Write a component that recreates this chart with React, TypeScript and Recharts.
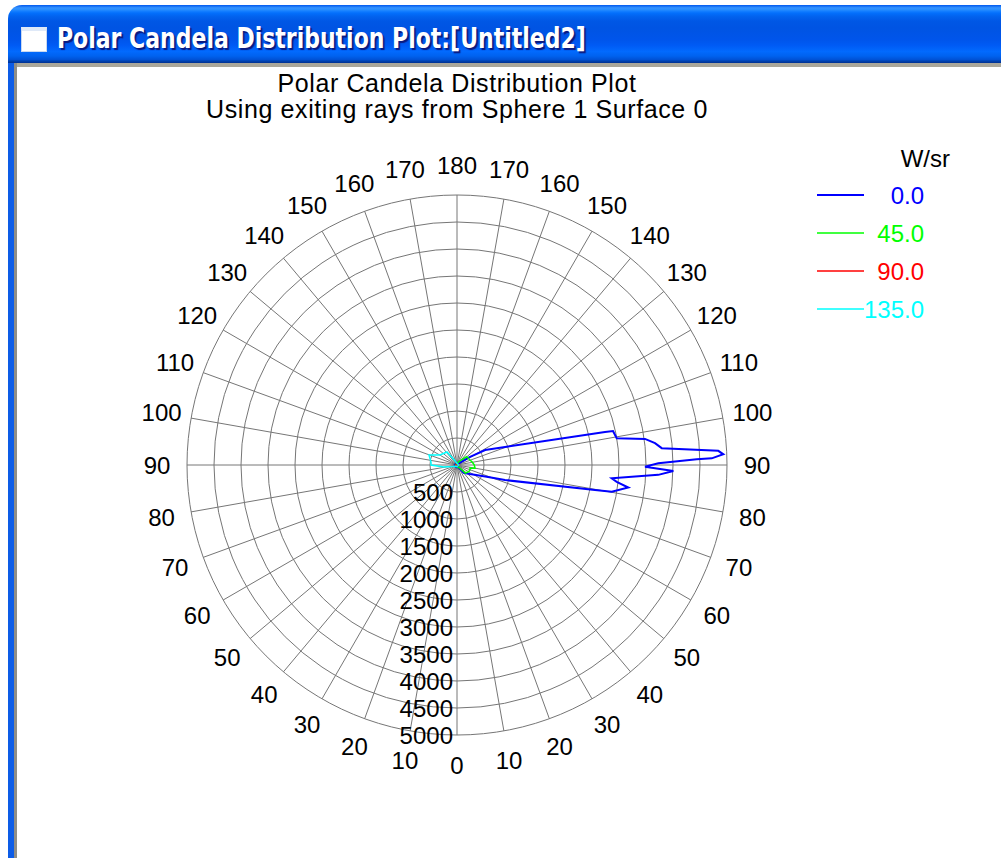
import React from 'react';
import {
  RadarChart,
  Radar,
  PolarGrid,
  PolarAngleAxis,
  PolarRadiusAxis
} from 'recharts';

// polar angle (deg) ticks: 0 at bottom, 180 at top, right half = plane, left half = plane + 180
const angleTicks = [0, 10, 20, 30, 40, 50, 60, 70, 80, 90, 100, 110, 120, 130, 140, 150, 160, 170,
  180, 190, 200, 210, 220, 230, 240, 250, 260, 270, 280, 290, 300, 310, 320, 330, 340, 350];
const radiusTicks = [500, 1000, 1500, 2000, 2500, 3000, 3500, 4000, 4500, 5000];

const seriesNames = ['0.0', '45.0', '90.0', '135.0'];
const seriesColors = ['#0000FF', '#00FF00', '#FF0000', '#00FFFF'];

// 0.0 plane
const blueTheta = [0, 30, 40, 55, 68.5, 72.6, 79.7, 80.2, 82.5, 84.0, 85.1, 87.2, 88.4, 89.5, 90.5,
  91.4, 91.5, 92.3, 93.1, 94.7, 96.3, 97.9, 99.5, 102.3, 102.6, 118, 122, 130, 180, 270, 330];
const blueValues = [40, 40, 190, 293, 591, 931, 2597, 2908, 3200, 2974, 2876, 3732, 4008, 3482, 3728,
  4441, 4719, 4936, 4846, 3804, 3689, 3515, 2999, 2957, 2808, 590, 275, 60, 40, 40, 40];

// 45.0 plane
const greenTheta = [0, 40, 46, 60, 69, 77, 80, 90, 100, 110, 121, 131, 140, 180, 270, 330];
const greenValues = [30, 60, 214, 250, 258, 247, 339, 320, 290, 260, 243, 236, 120, 30, 30, 30];

// 90.0 plane
const redTheta = [0, 45, 90, 135, 180, 225, 270, 315];
const redValues = [20, 20, 25, 20, 20, 20, 20, 20];

// 135.0 plane
const cyanTheta = [0, 90, 180, 205, 217.6, 239.5, 250.3, 263.4, 270, 278, 290, 320];
const cyanValues = [30, 30, 30, 80, 304, 365, 550, 485, 480, 250, 80, 30];

const series = [
  { theta: blueTheta, values: blueValues },
  { theta: greenTheta, values: greenValues },
  { theta: redTheta, values: redValues },
  { theta: cyanTheta, values: cyanValues }
];

const FONT = "'Liberation Sans', Arial, sans-serif";
const W = 1001;
const H = 858;
const CX = 457;
const CY = 465;

const AngleTick = (props: any) => {
  const { x, y, payload } = props;
  const v = payload.value;
  const label = v <= 180 ? v : 360 - v;
  return (
    <text x={x} y={y} textAnchor="middle" dominantBaseline="central"
      fontSize={24} fontFamily={FONT} fill="#000">
      {label}
    </text>
  );
};

const RadiusTick = (props: any) => {
  const { x, y, payload } = props;
  return (
    <text x={x - 4} y={y} textAnchor="end" dominantBaseline="central"
      fontSize={24} fontFamily={FONT} fill="#000">
      {payload.value}
    </text>
  );
};

// each plane has its own angles, so each gets its own layer on the same polar frame
const PolarLayer = ({ index, base }: { index: number; base: boolean }) => {
  const s = series[index];
  const data = s.theta.map((t, i) => ({ theta: t, value: s.values[i] }));
  return (
    <div style={{ position: 'absolute', left: 0, top: 0 }}>
      <RadarChart width={W} height={H} data={data} cx={CX} cy={CY}
        innerRadius={0} outerRadius={270} startAngle={-90} endAngle={270}
        margin={{ top: 0, right: 0, bottom: 0, left: 0 }}>
        {base && <PolarGrid gridType="circle" stroke="#767676" strokeWidth={1} />}
        <PolarAngleAxis dataKey="theta" type="number" domain={[0, 360]} ticks={angleTicks}
          tick={base ? (p: any) => <AngleTick {...p} /> : false}
          tickSize={30} tickLine={false} axisLine={false} />
        <PolarRadiusAxis angle={-90} type="number" domain={[0, 5000]} ticks={radiusTicks}
          tick={base ? (p: any) => <RadiusTick {...p} /> : false} axisLine={false} />
        <Radar name={seriesNames[index]} dataKey="value" stroke={seriesColors[index]}
          strokeWidth={index === 0 ? 2 : 1.5} fill="none" fillOpacity={0} dot={false}
          isAnimationActive={false} />
      </RadarChart>
    </div>
  );
};

const PlotLegend = () => (
  <svg width={200} height={200} style={{ position: 'absolute', left: 800, top: 140 }}>
    <text x={150} y={18} textAnchor="end" dominantBaseline="central" fontSize={24}
      fontFamily={FONT} fill="#000">W/sr</text>
    {seriesNames.map((name, i) => (
      <g key={name}>
        <line x1={17} x2={64} y1={55 + 38 * i} y2={55 + 38 * i} stroke={seriesColors[i]}
          strokeWidth={i === 0 ? 2 : 1.5} />
        <text x={124} y={55 + 38 * i} textAnchor="end" dominantBaseline="central" fontSize={24}
          fontFamily={FONT} fill={seriesColors[i]}>{name}</text>
      </g>
    ))}
  </svg>
);

export default function App() {
  return (
    <div style={{ position: 'absolute', left: 0, top: 0, width: W, height: H, overflow: 'hidden', background: '#fff' }}>
      {/* window title bar */}
      <div style={{
        position: 'absolute', left: 8, top: 5, width: 1010, height: 58,
        borderTopLeftRadius: 14,
        background: 'linear-gradient(to bottom, #0058ee 0%, #3593ff 5%, #288eff 8%, #127dff 11%, #036ffc 14%, #0262ee 20%, #0057e5 28%, #0054e3 40%, #0055eb 60%, #005bf5 70%, #026afe 80%, #0062ef 88%, #0052d6 94%, #0040ab 97%, #003092 100%)'
      }} />
      <div style={{
        position: 'absolute', left: 21, top: 27, width: 24, height: 20, background: '#fff',
        border: '1px solid #c8d8f0', borderTop: '4px solid #dfe9f8'
      }} />
      <div style={{
        position: 'absolute', left: 57, top: 21, lineHeight: '36px', fontSize: 28, fontWeight: 'bold',
        fontFamily: "'Liberation Sans Narrow', 'DejaVu Sans Condensed', 'Liberation Sans', sans-serif",
        color: '#fff', textShadow: '2px 2px 1px #0a1a80', whiteSpace: 'nowrap',
        transform: 'scaleX(0.873)', transformOrigin: 'left center'
      }}>
        Polar Candela Distribution Plot:[Untitled2]
      </div>
      {/* window frame */}
      <div style={{ position: 'absolute', left: 8, top: 63, width: 7, height: 800, background: '#0d5ce6' }} />
      <div style={{ position: 'absolute', left: 14, top: 63, width: 1000, height: 4, background: '#aaa79a' }} />
      <div style={{ position: 'absolute', left: 14, top: 63, width: 3, height: 800, background: '#8f8d86' }} />

      {series.map((_, i) => (
        <PolarLayer key={i} index={i} base={i === 0} />
      ))}

      <PlotLegend />

      <div style={{
        position: 'absolute', left: 157, top: 71, width: 600, textAlign: 'center',
        fontFamily: FONT, fontSize: 25, lineHeight: '25.7px', letterSpacing: 0.6, color: '#000'
      }}>
        <div>Polar Candela Distribution Plot</div>
        <div>Using exiting rays from Sphere 1 Surface 0</div>
      </div>
    </div>
  );
}
